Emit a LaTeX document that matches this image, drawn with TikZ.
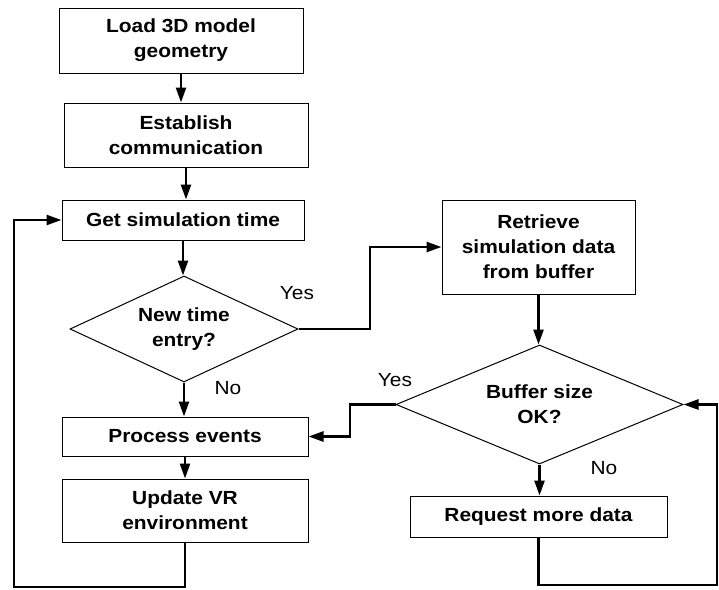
\documentclass[tikz,border=0pt]{standalone}
\usepackage{fontspec}
\setmainfont{Liberation Sans}[FakeStretch=1.1]
\usetikzlibrary{shapes.geometric,arrows.meta}
\begin{document}
\begin{tikzpicture}[x=1pt,y=-1pt,
 box/.style={draw, line width=1pt, inner sep=0pt, align=center, font=\fontsize{19}{25}\selectfont\bfseries},
 dec/.style={draw, diamond, aspect=2.15, line width=1pt, inner sep=0pt, align=center, font=\fontsize{19}{25}\selectfont\bfseries},
 arr/.style={line width=2.5pt, -{Triangle[length=15pt,width=10pt]}},
 lbl/.style={font=\fontsize{19}{23}\selectfont, inner sep=0pt}]
\useasboundingbox (0,0) rectangle (719,589);

\node[box, minimum width=244pt, minimum height=65pt] (load) at (181,40.5) {Load 3D model\\geometry};
\node[box, minimum width=244pt, minimum height=64pt] (estab) at (186,135) {Establish\\communication};
\node[box, minimum width=242pt, minimum height=40pt] (gettime) at (183,220) {Get simulation time};
\node[dec, minimum width=228pt, minimum height=106pt] (d1) at (184,329) {New time\\entry?};
\node[box, minimum width=193pt, minimum height=94pt] (retrieve) at (538.5,247) {Retrieve\\simulation data\\from buffer};
\node[dec, minimum width=287pt, minimum height=119pt] (d2) at (539.5,404.5) {Buffer size\\OK?};
\node[box, minimum width=246pt, minimum height=39pt] (process) at (185,436.5) {Process events};
\node[box, minimum width=246pt, minimum height=63pt] (update) at (185,510.5) {Update VR\\environment};
\node[box, minimum width=257pt, minimum height=41pt] (request) at (538.5,516.5) {Request more data};

\node[lbl] (yes1) at (297,293) {Yes};
\node[lbl] (no1) at (228,388) {No};
\node[lbl] (yes2) at (395,380) {Yes};
\node[lbl] (no2) at (604,468) {No};

\coordinate (lb) at (14,587);
\coordinate (k1) at (370,247);
\coordinate (k2) at (350,404.5);
\coordinate (k3) at (717,585);

\draw[arr] (load.south) -- (load.south |- estab.north);
\draw[arr] (estab.south) -- (estab.south |- gettime.north);
\draw[arr] (gettime.south) -- (gettime.south |- d1.north);
\draw[arr] (d1.south) -- (d1.south |- process.north);
\draw[arr] (process.south) -- (process.south |- update.north);
\draw[arr] (update.south) |- (lb) |- (gettime.west);
\draw[arr] (d1.east) -| (k1) -- (retrieve.west);
\draw[arr] (retrieve.south) -- (retrieve.south |- d2.north);
\draw[arr] (d2.west) -- (k2) |- (process.east);
\draw[arr] (d2.south) -- (d2.south |- request.north);
\draw[arr] (request.south) |- (k3) |- (d2.east);
\end{tikzpicture}
\end{document}
